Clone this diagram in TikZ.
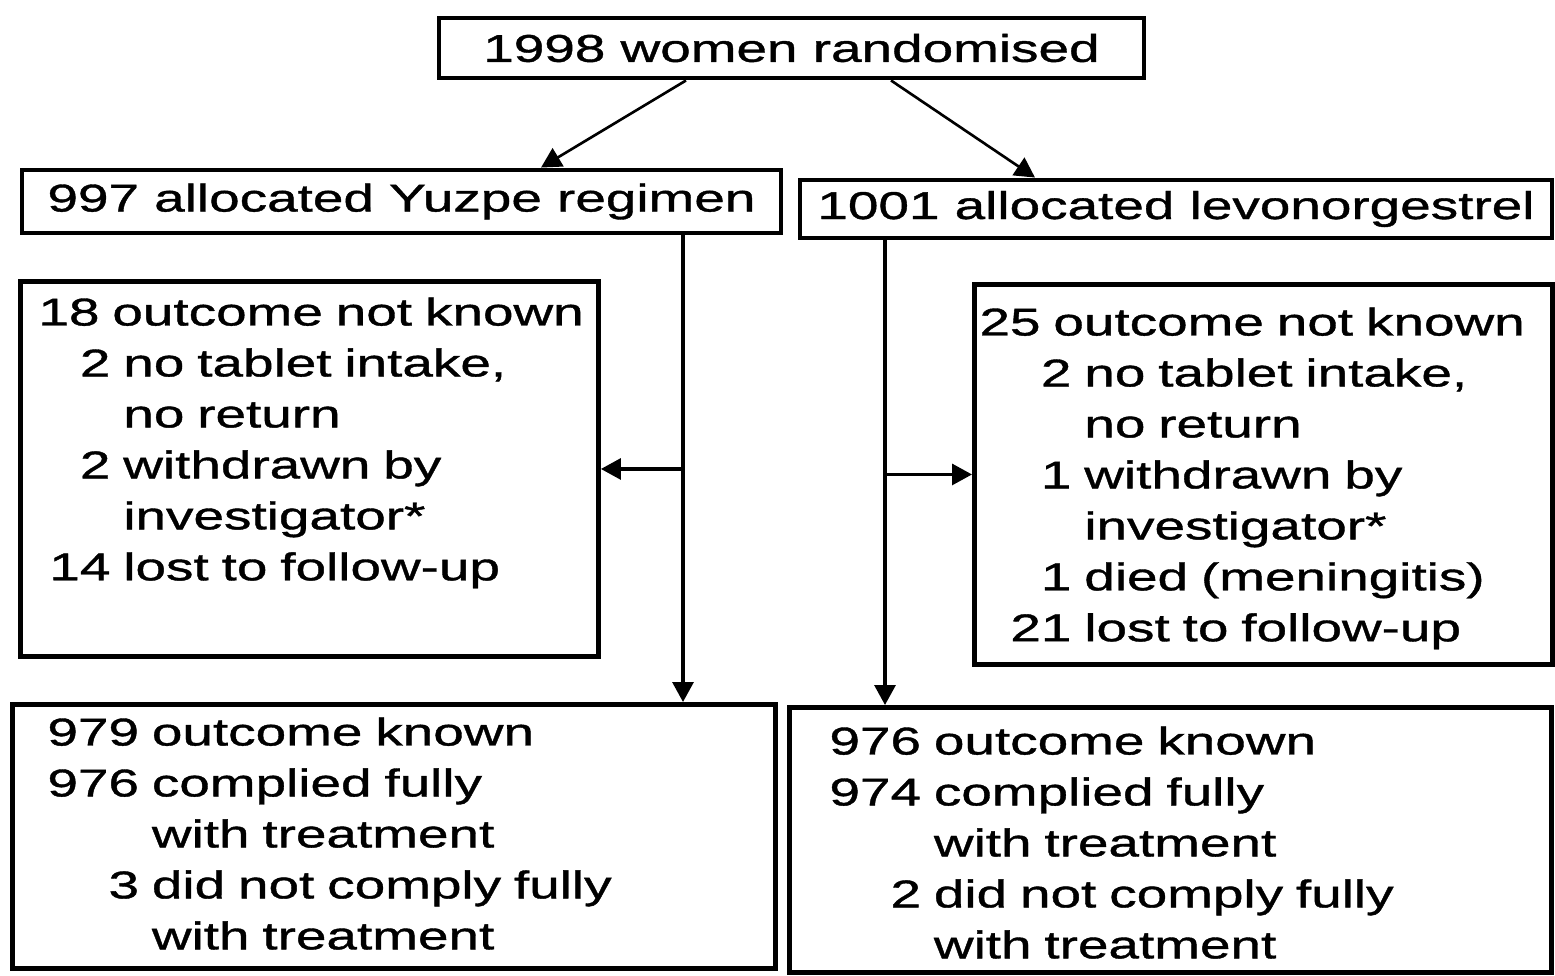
\documentclass[tikz,border=0pt]{standalone}
\usepackage{fontspec}
\usepackage{array}
\setmainfont[FakeStretch=1.42,FakeBold=1]{Liberation Sans}
\usetikzlibrary{arrows.meta,calc,positioning}
\newcolumntype{R}[1]{>{\raggedleft\arraybackslash}p{#1}}
\tikzset{%
	block/.style    = {draw, rectangle, line width=2.8pt, font=\fontsize{22}{29}\selectfont}, % Box
	title/.style    = {block, inner sep=0pt}, % One-line box
	list/.style     = {block, anchor=north west, align=left, text height=0.62cm}, % Box with a list
	flow/.style     = {line width=1.8pt, -{Triangle[length=0.4cm,width=0.42cm]}}, % Arrow
}
\begin{document}
\begin{tikzpicture}
		\useasboundingbox (0,0) rectangle (31.1,-19.5);
		\node[title, minimum width=14.1cm, minimum height=1.2cm] (rand) at (15.83,-0.96) {1998 women randomised};
		\node[title, minimum width=15.18cm, minimum height=1.26cm] (yuzpe) at (8.03,-4.03) {997 allocated Yuzpe regimen};
		\node[title, minimum width=15.04cm, minimum height=1.16cm] (levo) at (23.52,-4.18) {1001 allocated levonorgestrel};
		\node[list, text width=10.84cm, inner xsep=0.36cm, inner ysep=0.26cm, text depth=6.36cm] (yexcl) at (0.36,-5.58) {%
			\begin{tabular}[t]{@{}R{1.44cm}@{\ }l@{}}
				\multicolumn{2}{@{}l@{}}{18 outcome not known}\\
				2 & no tablet intake,\\
				  & no return\\
				2 & withdrawn by\\
				  & investigator*\\
				14 & lost to follow-up
			\end{tabular}};
		\node[list, text width=11.36cm, inner xsep=0.1cm, inner ysep=0.4cm, text depth=6.18cm] (lexcl) at (19.44,-5.64) {%
			\begin{tabular}[t]{@{}R{1.84cm}@{\ }l@{}}
				\multicolumn{2}{@{}l@{}}{25 outcome not known}\\
				2 & no tablet intake,\\
				  & no return\\
				1 & withdrawn by\\
				  & investigator*\\
				1 & died (meningitis)\\
				21 & lost to follow-up
			\end{tabular}};
		\node[list, text width=13.86cm, inner xsep=0.7cm, inner ysep=0.2cm, text depth=4.26cm] (yfinal) at (0.2,-14.04) {%
			\begin{tabular}[t]{@{}r@{\ }l@{}}
				979 & outcome known\\
				976 & complied fully\\
				    & with treatment\\
				3 & did not comply fully\\
				  & with treatment
			\end{tabular}};
		\node[list, text width=13.64cm, inner xsep=0.8cm, inner ysep=0.32cm, text depth=4.04cm] (lfinal) at (15.74,-14.1) {%
			\begin{tabular}[t]{@{}r@{\ }l@{}}
				976 & outcome known\\
				974 & complied fully\\
				    & with treatment\\
				2 & did not comply fully\\
				  & with treatment
			\end{tabular}};
		\coordinate (ydown) at ([xshift=5.63cm]yuzpe.south);
		\coordinate (ldown) at ([xshift=-5.82cm]levo.south);
		\draw[flow, line width=1.5pt] ([xshift=-2.11cm]rand.south) -- ([xshift=2.79cm]yuzpe.north);
		\draw[flow, line width=1.5pt] ([xshift=1.99cm]rand.south) -- ([xshift=-2.82cm]levo.north);
		\draw[flow] (ydown) -- (ydown |- yfinal.north);
		\draw[flow] (ydown |- yexcl.east) -- (yexcl.east);
		\draw[flow] (ldown) -- (ldown |- lfinal.north);
		\draw[flow] (ldown |- lexcl.west) -- (lexcl.west);
\end{tikzpicture}
\end{document}
